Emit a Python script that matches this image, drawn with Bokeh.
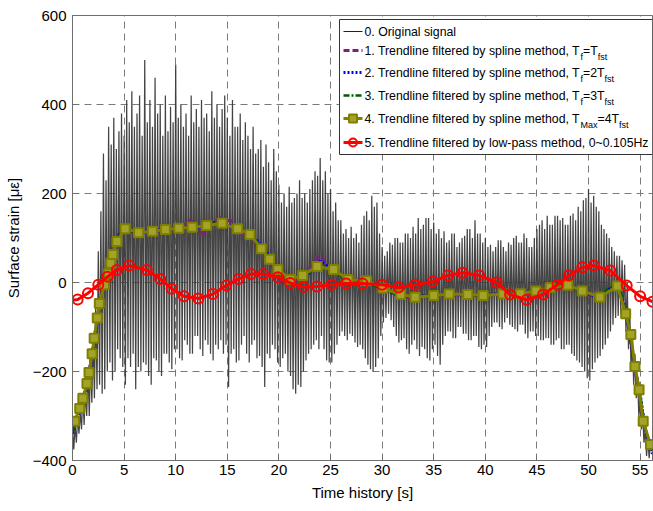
import numpy as np
from bokeh.plotting import figure
from bokeh.models import Range1d, FixedTicker
from bokeh.core.properties import value
from bokeh.embed import file_html
from bokeh.resources import INLINE

# ---------------- data ----------------
# 0. original signal: local peaks every 0.25 s (t = 0, 0.25, ...), one row per second
signal_peaks = [
    -330, -320, -300, -290,
    -250, -240, -200, -170,
    -120, -40, 70, 160,
    290, 230, 350, 310,
    370, 300, 340, 380,
    330, 410, 360, 430,
    350, 380, 420, 330,
    500, 360, 410, 350,
    460, 380, 400, 330,
    420, 340, 395, 360,
    490, 370, 400, 350,
    380, 330, 420, 360,
    390, 350, 410, 370,
    380, 340, 430, 370,
    400, 350, 390, 420,
    370, 330, 410, 350,
    350, 380, 320, 360,
    330, 300, 350, 290,
    300, 320, 260, 310,
    270, 230, 300, 250,
    220, 180, 200, 170,
    215, 180, 190, 200,
    230, 190, 200, 180,
    210, 230, 250, 240,
    280, 230, 250, 200,
    210, 160, 180, 140,
    140, 110, 120, 100,
    125, 100, 110, 90,
    130, 150, 160, 140,
    195, 170, 180, 110,
    80, 60, 70, 90,
    85, 100, 100, 90,
    90, 110, 110, 100,
    125, 110, 145, 120,
    130, 145, 145, 120,
    135, 110, 120, 100,
    115, 90, 95, 110,
    110, 80, 90, 100,
    105, 120, 120, 100,
    140, 110, 110, 90,
    100, 80, 85, 70,
    80, 95, 95, 80,
    70, 90, 85, 100,
    105, 90, 90, 110,
    100, 80, 80, 100,
    120, 130, 140, 120,
    150, 130, 130, 150,
    150, 140, 145, 130,
    130, 150, 155, 140,
    170, 160, 185, 190,
    210, 180, 195, 170,
    160, 130, 120, 110,
    100, 80, 70, 60,
    60, 50, 40, 0,
    -60, -110, -160, -210,
    -270, -300, -330, -350,
    -360]
# troughs between the peaks (t = 0.125, 0.375, ...), one row per second
signal_troughs = [
    -375, -360, -340, -330,
    -320, -300, -300, -270,
    -260, -240, -230, -250,
    -240, -200, -180, -220,
    -200, -150, -170, -190,
    -230, -170, -190, -160,
    -240, -190, -200, -180,
    -185, -210, -230, -170,
    -175, -200, -210, -160,
    -160, -180, -195, -150,
    -150, -170, -175, -130,
    -140, -160, -160, -120,
    -120, -150, -165, -130,
    -140, -160, -175, -140,
    -150, -130, -160, -140,
    -235, -160, -150, -180,
    -175, -140, -120, -160,
    -180, -140, -130, -170,
    -165, -190, -235, -160,
    -170, -140, -150, -180,
    -190, -170, -160, -200,
    -210, -240, -250, -230,
    -235, -200, -175, -160,
    -150, -140, -130, -150,
    -120, -150, -175, -180,
    -180, -160, -140, -120,
    -110, -120, -130, -115,
    -120, -135, -145, -140,
    -150, -170, -185, -195,
    -200, -190, -170, -120,
    -90, -80, -70, -85,
    -100, -120, -135, -130,
    -125, -150, -160, -140,
    -130, -150, -165, -145,
    -150, -170, -175, -150,
    -140, -165, -185, -140,
    -120, -110, -110, -125,
    -125, -100, -100, -115,
    -115, -130, -130, -120,
    -120, -145, -150, -140,
    -145, -120, -100, -90,
    -90, -100, -105, -90,
    -80, -95, -100, -105,
    -110, -95, -95, -115,
    -125, -110, -110, -120,
    -120, -130, -130, -125,
    -125, -140, -140, -130,
    -125, -150, -150, -140,
    -140, -160, -165, -175,
    -180, -190, -200, -215,
    -220, -195, -180, -170,
    -165, -150, -140, -125,
    -110, -95, -80, -75,
    -70, -80, -110, -150,
    -200, -230, -260, -300,
    -330, -360, -390, -395]
peak_step = 0.25

# 1. spline, Tf = Tfst
s1_t = [0.0, 0.5, 1.0, 1.5, 2.0, 2.5, 3.0, 3.5, 4.0, 4.5, 5.0, 5.5, 6.0, 6.5, 7.0, 7.5, 8.0, 8.5,
        9.0, 9.5, 10.0, 10.5, 11.0, 11.4, 11.9, 12.4, 12.9, 13.4, 13.9, 14.3, 14.8, 15.3, 15.8,
        16.3, 16.8, 17.3, 17.8, 18.3, 18.8, 19.3, 19.8, 20.3, 20.8, 21.3, 21.8, 22.3, 22.8, 23.3,
        23.8, 24.1, 24.5, 25.0, 25.5, 26.0, 26.5, 27.0, 27.5, 28.0, 28.5, 29.0, 29.5, 30.0, 30.5,
        31.0, 31.5, 32.0, 32.5, 33.0, 33.5, 34.0, 34.5, 35.0, 35.5, 36.0, 36.5, 37.0, 37.5, 38.0,
        38.5, 39.0, 39.5, 40.0, 40.5, 41.0, 41.5, 42.0, 42.5, 43.0, 43.5, 44.0, 44.5, 45.0, 45.5,
        46.0, 46.5, 47.0, 47.5, 48.0, 48.5, 49.0, 49.5, 50.0, 50.5, 51.0, 51.5, 52.0, 52.5, 53.0,
        53.4, 53.8, 54.2, 54.6, 55.0, 55.4, 55.8, 56.2]
s1_v = [-335, -300, -262, -215, -140, -65, -5, 40, 75, 110, 128, 118, 108, 108, 112, 118, 112, 118,
        122, 118, 126, 122, 132, 141, 128, 112, 110, 125, 138, 146, 138, 140, 126,
        110, 105, 100, 88, 70, 55, 40, 20, 5, -2, 5, 8, 15, 28, 40,
        55, 58, 45, 30, 22, 15, 5, 3, 6, 4, 0, -5, -8, -15, -18,
        -22, -28, -30, -34, -36, -32, -29, -32, -28, -26, -30, -25, -30, -27, -23,
        -28, -32, -26, -28, -30, -25, -27, -24, -26, -28, -24, -30, -20, -18, -14,
        -12, -9, -6, -5, -8, -12, -18, -22, -28, -32, -34, -26, -15, -8, -12,
        -45, -95, -150, -210, -265, -320, -355, -380]

# 2. spline, Tf = 2Tfst and 3. spline, Tf = 3Tfst
s23_t = [0, 0.5, 1, 1.5, 2, 2.5, 3, 3.5, 4, 4.5, 5, 6, 7, 8, 9, 10, 11, 12, 13, 14, 15, 16, 17, 18,
         19, 20, 21, 22, 23, 24, 25, 26, 27, 28, 29, 30, 31, 32, 33, 34, 35, 36, 37, 38, 39, 40,
         41, 42, 43, 44, 45, 46, 47, 48, 49, 50, 51, 52, 53, 53.5, 54, 54.5, 55, 55.5, 56, 56.2]
s2_v = [-340, -305, -268, -222, -150, -70, -8, 38, 72, 105, 122, 112, 114, 117, 120, 123, 125, 124,
        130, 136, 130, 122, 110, 92, 62, 25, 6, 10, 22, 48, 33, 16, 6, 5, -4, -14, -24, -30, -33,
        -30, -28, -27, -27, -28, -29, -27, -26, -25, -25, -22, -19, -12, -8, -6, -16, -26, -33,
        -15, -10, -60, -115, -190, -250, -330, -370, -385]
s3_v = [-338, -302, -265, -220, -148, -68, -6, 38, 72, 106, 122, 112, 114, 117, 120, 123, 125, 126,
        129, 134, 129, 120, 108, 90, 58, 27, 7, 12, 24, 40, 32, 15, 6, 4, -4, -14, -24, -31, -33,
        -30, -28, -26, -27, -28, -29, -27, -26, -25, -24, -22, -18, -11, -7, -6, -17, -27, -33,
        -12, -8, -60, -115, -190, -250, -330, -368, -382]

# 4. spline, TMax = 4Tfst (squares)
s4_t = [0.2, 0.7, 1.0, 1.4, 1.6, 1.9, 2.1, 2.4, 2.6, 3.1, 3.5, 3.7, 3.9, 4.3, 5.1, 6.4, 7.75, 9.0,
        10.3, 11.6, 13.0, 14.5, 16.0, 17.2, 18.3, 19.1, 19.9, 21.1, 22.3, 23.7, 25.3, 26.7, 28.5,
        30.1, 31.8, 33.2, 35.0, 36.5, 38.3, 39.8, 41.7, 43.4, 44.9, 46.3, 48.0, 49.4, 51.1, 52.8,
        53.6, 54.1, 54.5, 54.9, 55.3, 56.0]
s4_v = [-312, -283, -260, -227, -202, -160, -125, -80, -47, -5, 20, 43, 63, 92, 121, 112, 115, 119,
        122, 124, 128, 133, 121, 108, 76, 52, 29, 7, 16, 36, 29, 7, 4,
        -13, -27, -33, -29, -26, -27, -29, -26, -25, -19, -11, -6, -19, -33, -8,
        -70, -117, -189, -241, -312, -364]

# 5. low-pass 0~0.105 Hz (circles)
s5_t = [0.0, 0.5, 1.5, 2.5, 3.4, 4.3, 5.5, 7.2, 8.5, 9.6, 10.8, 12.2, 13.6, 14.9, 16.1, 17.3, 18.5,
        19.9, 21.1, 22.4, 23.7, 25.1, 26.5, 28.1, 30.0, 31.6, 33.2, 34.9, 36.4, 37.8, 39.4, 41.1,
        42.4, 44.0, 45.6, 47.0, 48.1, 49.4, 50.5, 52.1, 53.7, 55.0, 56.2]
s5_v = [-40, -38, -24, -5, 13, 28, 38, 28, 8, -14, -31, -36, -26, -7, 8, 19, 19,
        12, -1, -10, -9, -5, -2, -2, -5, -11, -5, 2, 16, 22, 16, 0,
        -27, -39, -27, -5, 16, 34, 38, 27, -7, -31, -43]

x_ticks = [0, 5, 10, 15, 20, 25, 30, 35, 40, 45, 50, 55]
y_ticks = [-400, -200, 0, 200, 400, 600]

legend_labels = [
    [("0. Original signal", 0)],
    [("1. Trendline filtered by spline method, T", 0), ("f", 1), ("=T", 0), ("fst", 1)],
    [("2. Trendline filtered by spline method, T", 0), ("f", 1), ("=2T", 0), ("fst", 1)],
    [("3. Trendline filtered by spline method, T", 0), ("f", 1), ("=3T", 0), ("fst", 1)],
    [("4. Trendline filtered by spline method, T", 0), ("Max", 1), ("=4T", 0), ("fst", 1)],
    [("5. Trendline filtered by low-pass method, 0~0.105Hz", 0)],
]

# ---------------- figure ----------------
W, H = 653, 511
BL, BR, BT, BB = 72, 1, 15, 51
X0, X1 = 0.0, 56.2
Y0, Y1 = -400.0, 600.0
FONT = "Liberation Sans"

p = figure(width=W, height=H, x_range=Range1d(X0, X1), y_range=Range1d(Y0, Y1),
           output_backend="svg", toolbar_location=None,
           min_border_left=BL, min_border_right=BR, min_border_top=BT, min_border_bottom=BB)
p.background_fill_color = "white"
p.border_fill_color = "white"
p.outline_line_color = "#6e6e6e"
p.outline_line_width = 1

for ax in (p.xaxis, p.yaxis):
    ax.axis_line_color = "#6e6e6e"
    ax.major_tick_line_color = "#6e6e6e"
    ax.major_tick_in = 5
    ax.major_tick_out = 0
    ax.minor_tick_line_color = None
    ax.major_label_text_font = FONT
    ax.major_label_text_font_size = "15px"
    ax.major_label_text_color = "black"
    ax.axis_label_text_font = FONT
    ax.axis_label_text_font_size = "15px"
    ax.axis_label_text_font_style = "normal"
    ax.axis_label_text_color = "black"

p.xaxis.ticker = FixedTicker(ticks=x_ticks)
p.yaxis.ticker = FixedTicker(ticks=y_ticks)
p.xaxis.axis_label = "Time history [s]"
p.yaxis.axis_label = "Surface strain [\u03bc\u03b5]"
p.xaxis.major_label_standoff = 4
p.yaxis.major_label_standoff = 6
p.xaxis.axis_label_standoff = 6
p.yaxis.axis_label_standoff = 8

p.grid.grid_line_color = "#7a7a7a"
p.grid.grid_line_dash = "7 5"
p.grid.grid_line_width = 1

# original signal (zigzag through peaks and troughs)
pk_t = np.arange(len(signal_peaks)) * peak_step
tr_t = np.arange(len(signal_troughs)) * peak_step + peak_step / 2
sig_t = np.concatenate([pk_t, tr_t])
sig_v = np.concatenate([np.array(signal_peaks, float), np.array(signal_troughs, float)])
order = np.argsort(sig_t, kind="stable")
p.line(sig_t[order], sig_v[order], line_color="#3a3a3a", line_width=1.25, line_alpha=0.95)

PURPLE, BLUE, DGREEN, OLIVE, RED = "#7e1e80", "#0000ff", "#005a00", "#808000", "#ff0000"

p.line(s1_t, s1_v, line_color=PURPLE, line_width=3, line_dash="6 3")
p.line(s23_t, s2_v, line_color=BLUE, line_width=3, line_dash="2 2")
p.line(s23_t, s3_v, line_color=DGREEN, line_width=2.5, line_dash="6 2 2 2")
p.line(s4_t, s4_v, line_color=OLIVE, line_width=3)
p.scatter(s4_t, s4_v, marker="square", size=9, line_color=OLIVE, line_width=2,
          fill_color="#a3a32a")
p.line(s5_t, s5_v, line_color=RED, line_width=3)
p.scatter(s5_t[1:], s5_v[1:], marker="circle", size=10, line_color=RED, line_width=2,
          fill_alpha=0)

# ---------------- legend (hand drawn so subscripts can be shown) ----------------
fw = W - BL - BR
fh = H - BT - BB


def dx(px):
    return X0 + (px - BL) / fw * (X1 - X0)


def dy(py):
    return Y1 - (py - BT) / fh * (Y1 - Y0)


AW = {' ': 278, ',': 278, '-': 333, '.': 278, '=': 584, '~': 584, 'H': 722, 'M': 833, 'O': 778,
      'T': 611, 'a': 556, 'b': 556, 'd': 556, 'e': 556, 'f': 278, 'g': 556, 'h': 556, 'i': 222,
      'l': 222, 'm': 833, 'n': 556, 'o': 556, 'p': 556, 'r': 333, 's': 500, 't': 278, 'w': 722,
      'x': 500, 'y': 500, 'z': 500}


def tw(s, size):
    return sum(AW.get(c, 556) for c in s) / 1000.0 * size


LX0, LX1, LY0, LY1 = 339, 652, 19, 154
p.quad(left=dx(LX0), right=dx(LX1), top=dy(LY0), bottom=dy(LY1),
       fill_color="white", line_color="#333333", line_width=1)

rows_y = [31, 50, 72, 95, 118, 142]
MAIN, SUB = 12.3, 9.0
sx0, sx1, tx0 = 343, 362, 364
styles = [
    dict(line_color="#222222", line_width=1),
    dict(line_color=PURPLE, line_width=3, line_dash="6 3"),
    dict(line_color=BLUE, line_width=3, line_dash="2 2"),
    dict(line_color=DGREEN, line_width=2.5, line_dash="6 2 2 2"),
    dict(line_color=OLIVE, line_width=3),
    dict(line_color=RED, line_width=3),
]
for i, (ry, parts) in enumerate(zip(rows_y, legend_labels)):
    p.line([dx(sx0), dx(sx1)], [dy(ry), dy(ry)], **styles[i])
    if i == 4:
        p.scatter([dx((sx0 + sx1) / 2)], [dy(ry)], marker="square", size=8, line_color=OLIVE,
                  line_width=2, fill_color="#a3a32a")
    if i == 5:
        p.scatter([dx((sx0 + sx1) / 2)], [dy(ry)], marker="circle", size=8, line_color=RED,
                  line_width=2, fill_alpha=0)
    cx = tx0
    for txt, is_sub in parts:
        size = SUB if is_sub else MAIN
        yy = ry + (6 if is_sub else 0)
        p.text([dx(cx)], [dy(yy)], text=[txt], text_font=value(FONT),
               text_font_size="%.1fpx" % size, text_align="left", text_baseline="middle",
               text_color="black")
        cx += tw(txt, size)

open("out.html", "w").write(file_html(p, INLINE))
